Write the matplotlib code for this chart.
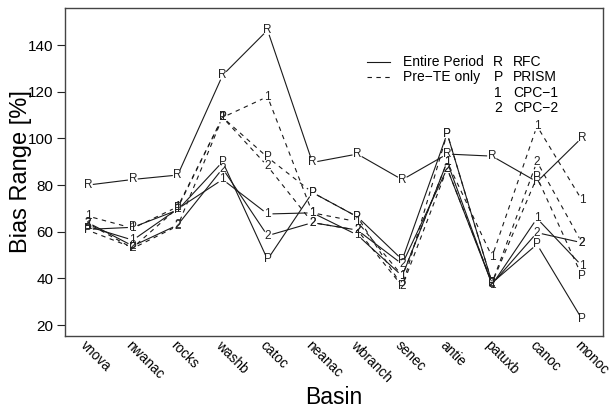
import numpy as np
import matplotlib
matplotlib.use("Agg")
import matplotlib.pyplot as plt

plt.rcParams['font.family'] = ['Liberation Sans', 'DejaVu Sans']

# %% Data
basins = ["vnova", "nwanac", "rocks", "washb", "catoc", "neanac",
          "wbranch", "senec", "antie", "patuxb", "canoc", "monoc"]

# Entire period (solid)
rfc_entire = [80.0, 82.4, 84.3, 127.1, 146.4, 89.7, 93.3, 82.3, 93.3, 92.4, 81.4, 100.3]
prism_entire = [61.0, 61.9, 69.3, 90.0, 48.1, 76.8, 66.4, 48.0, 102.1, 38.1, 54.6, 22.6]
cpc1_entire = [62.3, 56.4, 69.8, 82.4, 67.6, 68.1, 58.6, 41.0, 90.0, 37.3, 65.7, 45.4]
cpc2_entire = [63.9, 53.9, 62.9, 87.1, 58.3, 63.9, 60.7, 46.1, 87.1, 37.6, 59.6, 55.3]

# Pre-TE only (dashed)
prism_pre = [60.6, 53.2, 70.2, 109.0, 91.9, 76.8, 66.4, 36.6, 102.1, 38.1, 83.4, 41.1]
cpc1_pre = [66.7, 61.5, 70.7, 109.0, 117.9, 68.1, 64.3, 41.1, 90.0, 49.3, 105.3, 73.6]
cpc2_pre = [63.6, 52.9, 62.5, 109.0, 88.1, 63.9, 60.7, 36.6, 87.1, 38.1, 90.0, 55.3]

products = ["RFC", "PRISM", "CPC\u22121", "CPC\u22122"]
symbols = ["R", "P", "1", "2"]

# %% Figure
fig = plt.figure(figsize=(6.13, 4.09), dpi=100)
ax = fig.add_axes([65 / 613, 1 - 336 / 409, 538 / 613, 328 / 409])
ax.set_xlim(-0.51, 11.47)
ax.set_ylim(15.3, 155.9)

LINE_COL = "#1a1a1a"
GAP = 5.5  # pixels left open around each point (like R type="b")


def gapped_line(xs, ys, **kw):
    pts = ax.transData.transform(np.column_stack([xs, ys]))
    inv = ax.transData.inverted()
    for p0, p1 in zip(pts[:-1], pts[1:]):
        d = p1 - p0
        L = np.hypot(d[0], d[1])
        if L <= 2 * GAP:
            continue
        u = d / L
        a = inv.transform(p0 + u * GAP)
        b = inv.transform(p1 - u * GAP)
        ax.plot([a[0], b[0]], [a[1], b[1]], color=LINE_COL, lw=0.8, **kw)


def series(vals, sym, dashed):
    x = np.arange(len(basins))
    if dashed:
        gapped_line(x, vals, linestyle=(0, (4, 4)))
    else:
        gapped_line(x, vals, linestyle="-")
    for xi, yi in zip(x, vals):
        ax.text(xi, yi, sym, ha="center", va="center", fontsize=8.5, color="#222222")


series(rfc_entire, "R", False)
series(prism_entire, "P", False)
series(cpc1_entire, "1", False)
series(cpc2_entire, "2", False)
series(prism_pre, "P", True)
series(cpc1_pre, "1", True)
series(cpc2_pre, "2", True)

# %% Axes styling
for s in ax.spines.values():
    s.set_color("#444444")
    s.set_linewidth(1.0)

ax.set_yticks([20, 40, 60, 80, 100, 120, 140])
ax.tick_params(axis="y", length=5.5, width=0.8, labelsize=11, pad=3, color="#222222")
ax.set_xticks(np.arange(len(basins)))
ax.set_xticklabels(basins, rotation=-45, ha="left", va="top",
                   rotation_mode="anchor", fontsize=9.8)
ax.tick_params(axis="x", length=0, pad=1.5)

ax.set_ylabel("Bias Range [%]", fontsize=17)
ax.yaxis.set_label_coords(-0.061, 0.5)
ax.set_xlabel("Basin", fontsize=16.5)
ax.xaxis.set_label_coords(0.5, -0.152)

# %% Legend (drawn by hand, like R legend())
rows = [0.835, 0.789, 0.741, 0.695]
ax.plot([0.561, 0.604], [rows[0], rows[0]], transform=ax.transAxes, color=LINE_COL, lw=0.8)
ax.plot([0.561, 0.604], [rows[1], rows[1]], transform=ax.transAxes, color=LINE_COL, lw=0.8,
        linestyle=(0, (4, 4)))
ax.text(0.628, rows[0], "Entire Period", transform=ax.transAxes, va="center", fontsize=10)
ax.text(0.628, rows[1], "Pre\u2212TE only", transform=ax.transAxes, va="center", fontsize=10)
for r, sym, name in zip(rows, symbols, products):
    ax.text(0.805, r, sym, transform=ax.transAxes, va="center", ha="center", fontsize=10)
    ax.text(0.833, r, name, transform=ax.transAxes, va="center", fontsize=10)

fig.savefig("out.png", dpi=100)
